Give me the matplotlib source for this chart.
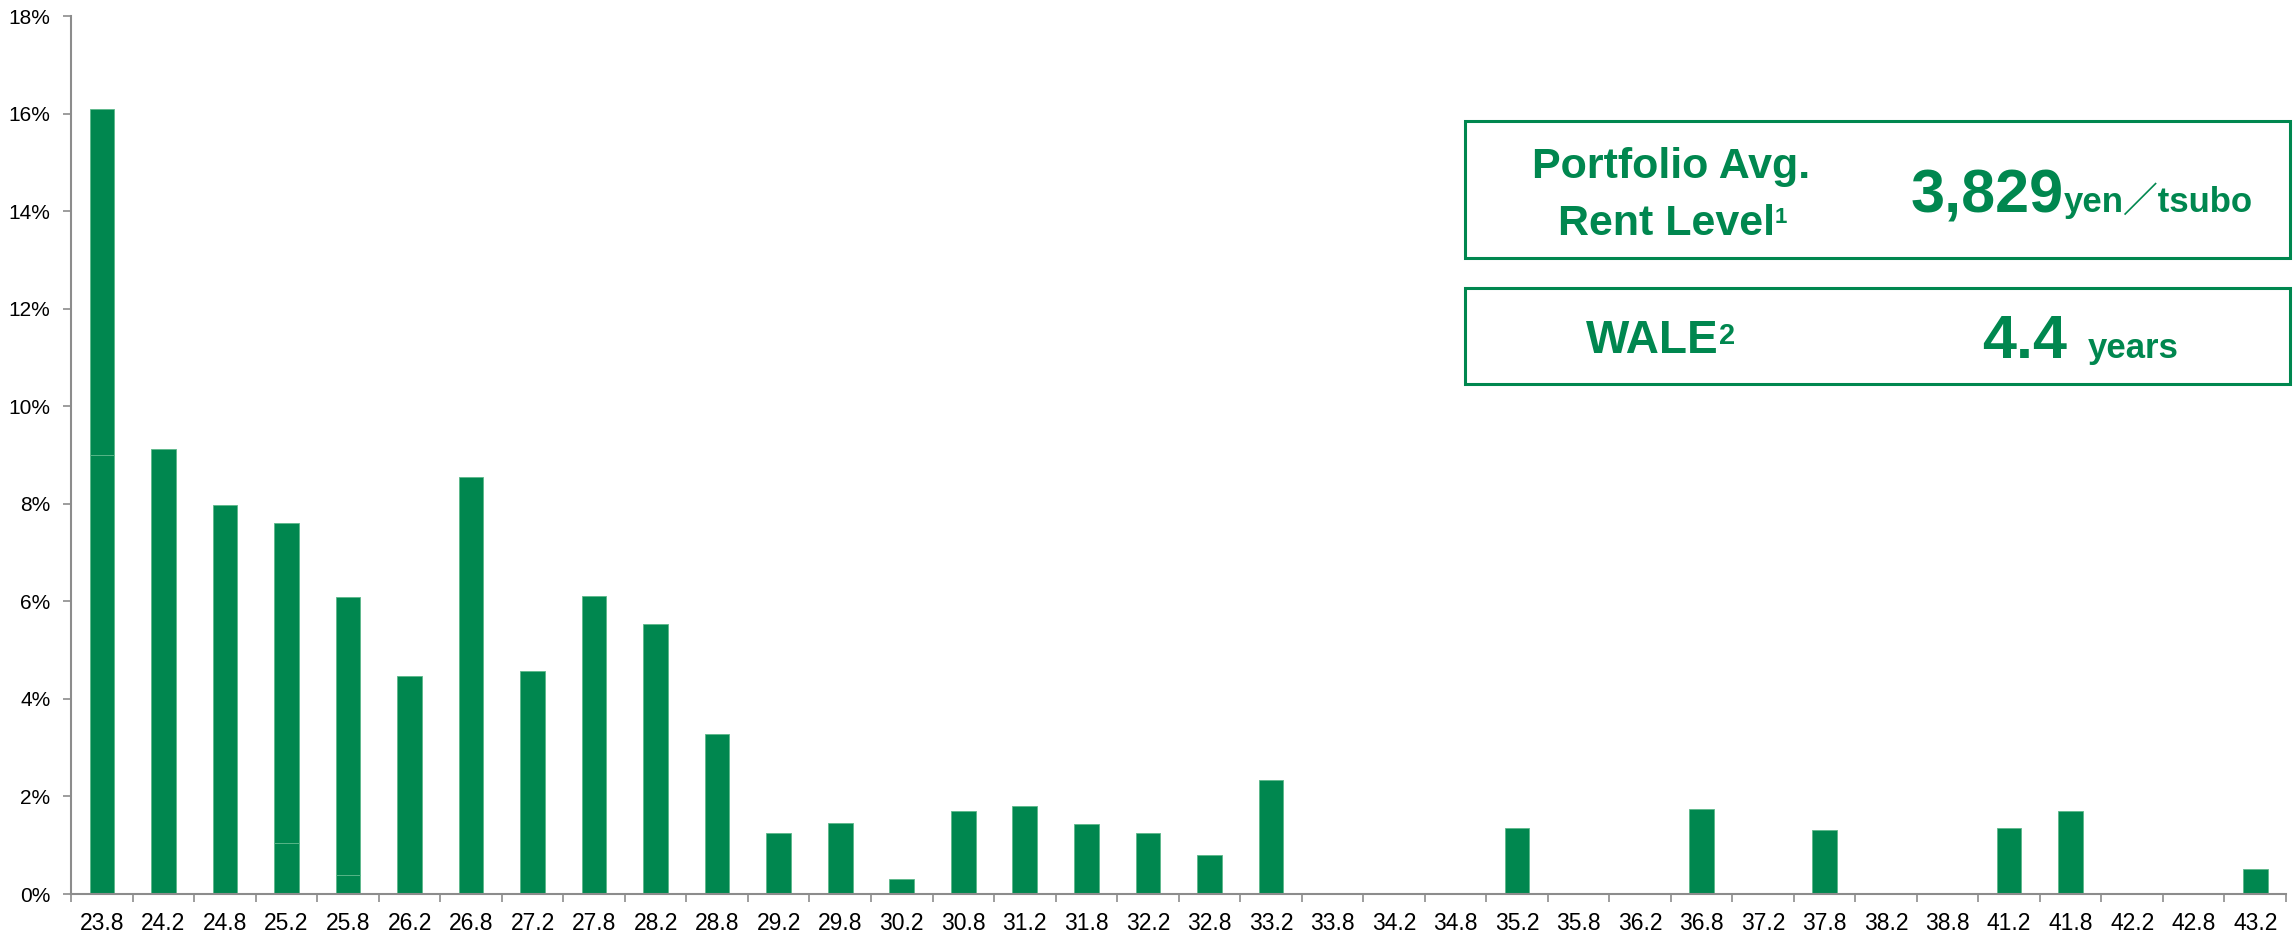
import matplotlib
matplotlib.use("Agg")
import matplotlib.pyplot as plt
import matplotlib.patches as patches
import numpy as np

# rent level buckets (thousand yen / tsubo) and share of leased area (%)
rent_labels = ["23.8", "24.2", "24.8", "25.2", "25.8", "26.2", "26.8", "27.2", "27.8",
               "28.2", "28.8", "29.2", "29.8", "30.2", "30.8", "31.2", "31.8", "32.2",
               "32.8", "33.2", "33.8", "34.2", "34.8", "35.2", "35.8", "36.2", "36.8",
               "37.2", "37.8", "38.2", "38.8", "41.2", "41.8", "42.2", "42.8", "43.2"]
share_lower = [9.0, 0, 0, 1.04, 0.38, 0, 0, 0, 0,
               0, 0, 0, 0, 0, 0, 0, 0, 0,
               0, 0, 0, 0, 0, 0, 0, 0, 0,
               0, 0, 0, 0, 0, 0, 0, 0, 0]
share_upper = [7.1, 9.12, 7.97, 6.56, 5.70, 4.47, 8.54, 4.58, 6.11,
               5.54, 3.28, 1.25, 1.45, 0.30, 1.70, 1.81, 1.43, 1.25,
               0.80, 2.33, 0, 0, 0, 1.36, 0, 0, 1.74,
               0, 1.32, 0, 0, 1.36, 1.70, 0, 0, 0.52]
y_ticks = [0, 2, 4, 6, 8, 10, 12, 14, 16, 18]

avg_rent = "3,829"
wale = "4.4"

GREEN = "#00874F"
EDGE = "#5cb88a"
GRAY = "#8c8c8c"
W, H = 2295, 934
FONT = ["Liberation Sans", "Noto Sans CJK JP", "DejaVu Sans"]

plt.rcParams["font.family"] = FONT

fig = plt.figure(figsize=(W / 100, H / 100), dpi=100)
ax = fig.add_axes([71.2 / W, (H - 894) / H, (2286 - 71.2) / W, (894 - 16) / H])

x = np.arange(len(rent_labels))
ax.bar(x, share_lower, width=0.4, color=GREEN, edgecolor=EDGE, linewidth=0.6)
ax.bar(x, share_upper, width=0.4, bottom=share_lower, color=GREEN, edgecolor=EDGE, linewidth=0.6)

ax.set_xlim(-0.5, len(rent_labels) - 0.5)
ax.set_ylim(0, 18)
ax.set_yticks(y_ticks)
ax.set_yticklabels([f"{t}%" for t in y_ticks], fontsize=15)
ax.set_xticks(x)
ax.set_xticklabels(rent_labels, fontsize=16.5)
ax.set_xticks(np.arange(-0.5, len(rent_labels)), minor=True)
ax.tick_params(axis="x", which="major", length=0, pad=13)
ax.tick_params(axis="x", which="minor", length=6, width=1.2, color=GRAY)
ax.tick_params(axis="y", length=6, width=1.2, color=GRAY, pad=9)
for side in ["top", "right"]:
    ax.spines[side].set_visible(False)
for side in ["left", "bottom"]:
    ax.spines[side].set_color(GRAY)
    ax.spines[side].set_linewidth(1.5)


def fx(px):
    return px / W


def fy(py):
    return (H - py) / H


# summary boxes (figure pixel coords, top-origin)
for top, bottom in [(121, 258), (288, 384)]:
    fig.add_artist(patches.Rectangle((fx(1465), fy(bottom)), fx(2290) - fx(1465), fy(top) - fy(bottom),
                                     transform=fig.transFigure, fill=False,
                                     edgecolor=GREEN, linewidth=2.2))

txt = dict(color=GREEN, fontweight="bold", family=FONT)
fig.text(fx(1671), fy(178), "Portfolio Avg.", ha="center", va="baseline", fontsize=31, **txt)
fig.text(fx(1666), fy(235), "Rent Level", ha="center", va="baseline", fontsize=31, **txt)
fig.text(fx(1775), fy(223), "1", ha="left", va="baseline", fontsize=16, **txt)

fig.text(fx(2064), fy(212), avg_rent, ha="right", va="baseline", fontsize=44, **txt)
fig.text(fx(2064), fy(212), "yen／tsubo", ha="left", va="baseline", fontsize=25, **txt)

fig.text(fx(1719), fy(353), "WALE", ha="right", va="baseline", fontsize=33, **txt)
fig.text(fx(1719), fy(344), "2", ha="left", va="baseline", fontsize=21, **txt)
fig.text(fx(2067), fy(358), wale, ha="right", va="baseline", fontsize=44, **txt)
fig.text(fx(2088), fy(358), "years", ha="left", va="baseline", fontsize=25, **txt)

fig.savefig("out.png", dpi=100)
